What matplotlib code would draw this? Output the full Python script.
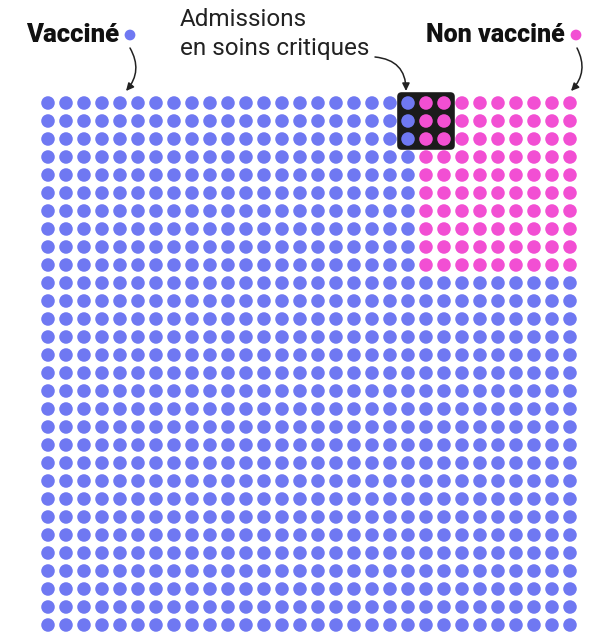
import matplotlib
matplotlib.use("Agg")
import matplotlib.pyplot as plt
from matplotlib.patches import FancyBboxPatch
import numpy as np

# grid : 900 personnes, 30 x 30
n_cols = 30
n_rows = 30
# bloc des non vaccinés (coin haut droit)
unvacc_cols = 9
unvacc_rows = 10
# admissions en soins critiques (carré 3 x 3)
crit_vacc = 3
crit_unvacc = 6

labels = ["Vacciné", "Non vacciné", "Admissions\nen soins critiques"]

blue = "#6f78f2"
pink = "#f24fd3"

plt.rcParams['font.family'] = ['Roboto', 'DejaVu Sans']

# grille : couleur par point
cols, rows = np.meshgrid(np.arange(n_cols), np.arange(n_rows))
cols = cols.ravel()
rows = rows.ravel()
is_unvacc = (cols >= n_cols - unvacc_cols) & (rows < unvacc_rows)
colors = np.where(is_unvacc, pink, blue)

fig = plt.figure(figsize=(5.9, 6.34), dpi=100)
ax = fig.add_axes([0, 0, 1, 1])
ax.axis('off')

# 1 unité de grille = 18 px, premier point à (48, 103) px
pitch = 18.0
x0, y0 = 48.0, 103.0
def g(xp, yp):
    return (xp - x0) / pitch, (yp - y0) / pitch

ax.set_xlim(g(0, 0)[0], g(590, 0)[0])
ax.set_ylim(g(0, 634)[1], g(0, 0)[1])

# carré noir des soins critiques
crit_side = int(np.sqrt(crit_vacc + crit_unvacc))
crit_c0 = n_cols - unvacc_cols - crit_vacc // crit_side
pad = 0.6
box = FancyBboxPatch((crit_c0 - pad, -pad), crit_side - 1 + 2 * pad, crit_side - 1 + 2 * pad,
                     boxstyle="round,pad=0,rounding_size=0.25",
                     facecolor="#1b1b1b", edgecolor="none", zorder=1)
ax.add_patch(box)

ax.scatter(cols, rows, s=95, c=colors, edgecolors='none', zorder=2)

# légendes
tx, ty = g(26, 35)
ax.text(tx, ty, labels[0], fontsize=18.5, fontweight='black', ha='left', va='center', color='#111111')
ax.scatter(*g(130, 35), s=60, c=blue, edgecolors='none')
tx, ty = g(565, 35)
ax.text(tx, ty, labels[1], fontsize=18, fontweight='black', ha='right', va='center', color='#111111')
ax.scatter(*g(576, 35), s=60, c=pink, edgecolors='none')
tx, ty = g(180, 34)
ax.text(tx, ty, labels[2], fontsize=17.5, ha='left', va='center', color='#222222', linespacing=1.3)

arrow = dict(arrowstyle='-|>,head_length=0.45,head_width=0.22', color='#222222', lw=1.1,
             shrinkA=0, shrinkB=0)
ax.annotate("", xy=g(126, 91), xytext=g(130, 48),
            arrowprops=dict(arrow, connectionstyle="arc3,rad=-0.35"))
ax.annotate("", xy=g(406, 91), xytext=g(375, 57),
            arrowprops=dict(arrow, connectionstyle="arc3,rad=-0.45"))
ax.annotate("", xy=g(571, 91), xytext=g(577, 48),
            arrowprops=dict(arrow, connectionstyle="arc3,rad=-0.35"))

fig.savefig("out.png", dpi=100, facecolor='white')
